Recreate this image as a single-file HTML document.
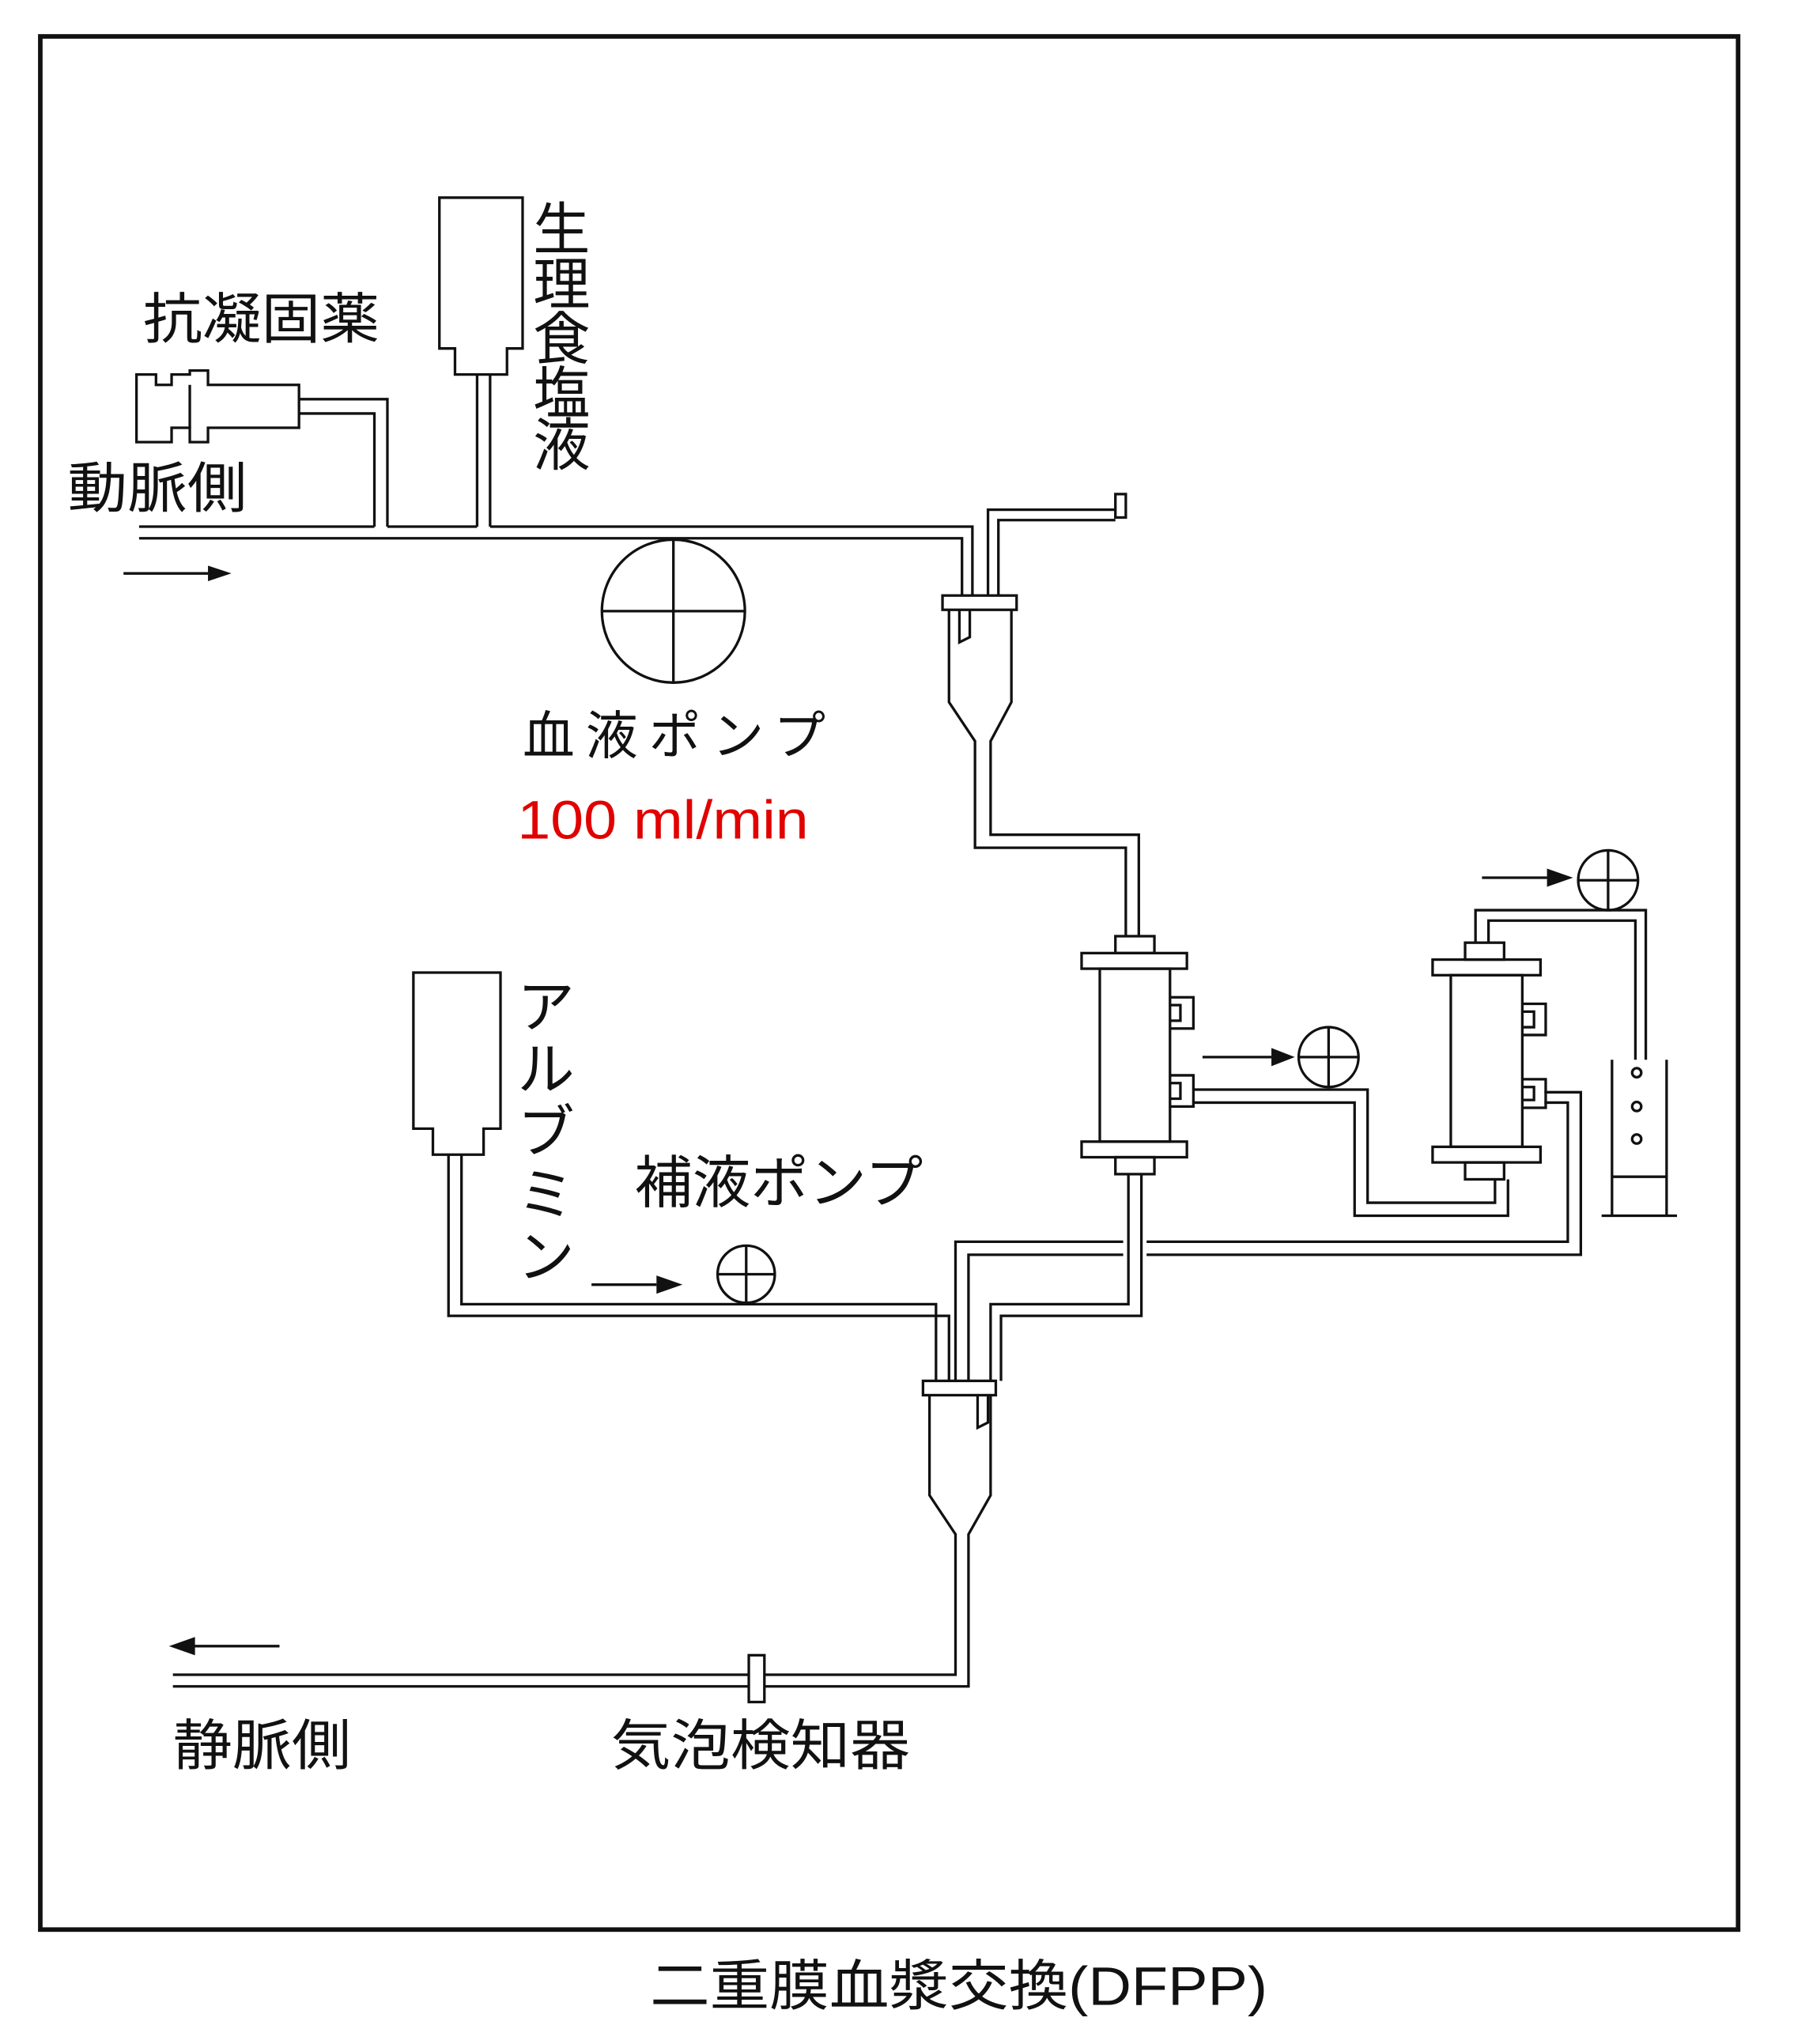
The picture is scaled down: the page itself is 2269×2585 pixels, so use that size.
<!DOCTYPE html>
<html><head><meta charset="utf-8"><style>
html,body{margin:0;padding:0;background:#fff;}
svg{display:block;}
text{font-family:"Liberation Sans","Noto Sans CJK JP",sans-serif;fill:#111;}
</style></head><body>
<svg width="2269" height="2585" viewBox="0 0 1380 1572" preserveAspectRatio="none" xmlns="http://www.w3.org/2000/svg">
<g fill="none" stroke="#111" stroke-width="2">
<rect x="31" y="28" width="1306" height="1456" stroke-width="3.5"/>
<!-- anticoagulant syringe -->
<path d="M105 288 H120 V296 H132 V288 H146 V285 H160 V296 H230 V329 H160 V340 H146 V329 H132 V340 H120 V340 H105 Z"/>
<path d="M146 296 V329"/>
<path d="M230 307 H298 V405 M230 318 H288 V405"/>
<!-- saline bag -->
<path d="M338 152 H402 V268 H390 V288 H350 V268 H338 Z"/>
<path d="M377 288 V405 M367 288 V405"/>
<!-- main arterial line -->
<path d="M107 405 H288 M298 405 H367 M377 405 H748 V458"/>
<path d="M107 414 H740 V458"/>
<path d="M95 441 H160"/>
<!-- blood pump -->
<circle cx="518" cy="470" r="55"/>
<path d="M463 470 H573 M518 415 V525"/>
<!-- drip chamber 1 -->
<path d="M760 458 V392 H858 M768 458 V400 H858"/>
<rect x="858" y="380" width="8" height="18"/>
<rect x="725" y="458" width="57" height="11"/>
<path d="M730 469 V540 L750 570 V652 H866 V720 M778 469 V540 L762 570 V642 H876 V720"/>
<path d="M738 469 V494 L746 490 V469"/>
<!-- filter 1 -->
<rect x="858" y="720" width="30" height="13"/>
<rect x="832" y="733" width="81" height="12"/>
<rect x="846" y="745" width="54" height="133"/>
<rect x="832" y="878" width="81" height="12"/>
<rect x="858" y="890" width="30" height="13"/>
<path d="M900 767 H918 V791 H900 M900 773 H908 V785 H900"/>
<path d="M900 827 H918 V851 H900 M900 833 H908 V845 H900"/>
<path d="M868 903 V1003 H762 V1062 M878 903 V1012 H770 V1062"/>
<path d="M735 1062 V955 H864 M882 955 H1206 V848 H1188 M745 1062 V965 H864 M882 965 H1216 V840 H1188"/>
<path d="M918 838 H1052 V925 H1150 V907 M918 848 H1042 V935 H1160 V907"/>
<path d="M925 813 H978"/>
<circle cx="1022" cy="813" r="23"/>
<path d="M999 813 H1045 M1022 790 V836"/>
<!-- filter 2 -->
<rect x="1127" y="725" width="30" height="13"/>
<rect x="1102" y="738" width="83" height="12"/>
<rect x="1116" y="750" width="55" height="132"/>
<rect x="1102" y="882" width="83" height="12"/>
<rect x="1127" y="894" width="30" height="13"/>
<path d="M1171 772 H1189 V796 H1171 M1171 778 H1180 V790 H1171"/>
<path d="M1171 830 H1189 V852 H1171 M1171 836 H1180 V846 H1171"/>
<path d="M1135 725 V700 H1266 V815 M1145 725 V708 H1258 V815"/>
<path d="M1140 675 H1190"/>
<circle cx="1237" cy="677" r="23"/>
<path d="M1214 677 H1260 M1237 654 V700"/>
<!-- waste container -->
<path d="M1240 815 V935 M1282 815 V935 M1232 935 H1290 M1240 905 H1282"/>
<circle cx="1259" cy="825" r="3.5"/><circle cx="1259" cy="851" r="3.5"/><circle cx="1259" cy="876" r="3.5"/>
<!-- albumin bag -->
<path d="M318 748 H385 V868 H372 V888 H333 V868 H318 Z"/>
<path d="M355 888 V1003 H720 V1062 M345 888 V1012 H730 V1062"/>
<path d="M455 988 H505"/>
<circle cx="574" cy="980" r="22"/>
<path d="M552 980 H596 M574 958 V1002"/>
<!-- drip chamber 2 -->
<rect x="710" y="1062" width="56" height="11"/>
<path d="M715 1073 V1150 L735 1180 V1288 H133 M762 1073 V1150 L745 1180 V1297 H133"/>
<path d="M752 1073 V1098 L760 1094 V1073"/>
<rect x="576" y="1273" width="12" height="36" fill="#fff"/>
<path d="M145 1266 H215"/>
</g>
<g fill="#111">
<path d="M160 435 L178 441 L160 447 Z"/>
<path d="M978 806 L996 813 L978 820 Z"/>
<path d="M1190 668 L1210 675 L1190 682 Z"/>
<path d="M505 981 L525 988 L505 995 Z"/>
<path d="M150 1259 L130 1266 L150 1273 Z"/>
</g>
<text x="110" y="260" font-size="42" textLength="182" lengthAdjust="spacingAndGlyphs">抗凝固薬</text>
<text x="52" y="390" font-size="42" textLength="138" lengthAdjust="spacingAndGlyphs">動脈側</text>
<g font-size="44">
<text x="410" y="192">生</text><text x="410" y="234">理</text><text x="410" y="276">食</text><text x="410" y="318">塩</text><text x="410" y="358">液</text>
</g>
<text x="402" y="580" font-size="40" textLength="233">血液ポンプ</text>
<text x="398" y="645" font-size="42" style="fill:#e00000" textLength="224" lengthAdjust="spacingAndGlyphs">100 ml/min</text>
<g font-size="44">
<text x="398" y="790">ア</text><text x="398" y="838">ル</text><text x="398" y="886">ブ</text><text x="398" y="934">ミ</text><text x="398" y="982">ン</text>
</g>
<text x="488" y="925" font-size="44" textLength="222" lengthAdjust="spacingAndGlyphs">補液ポンプ</text>
<text x="133" y="1357" font-size="42" textLength="137" lengthAdjust="spacingAndGlyphs">静脈側</text>
<text x="470" y="1357" font-size="42" textLength="230" lengthAdjust="spacingAndGlyphs">気泡検知器</text>
<text x="500" y="1542" font-size="42" textLength="475" lengthAdjust="spacingAndGlyphs">二重膜血漿交換(DFPP)</text>
</svg>
</body></html>
